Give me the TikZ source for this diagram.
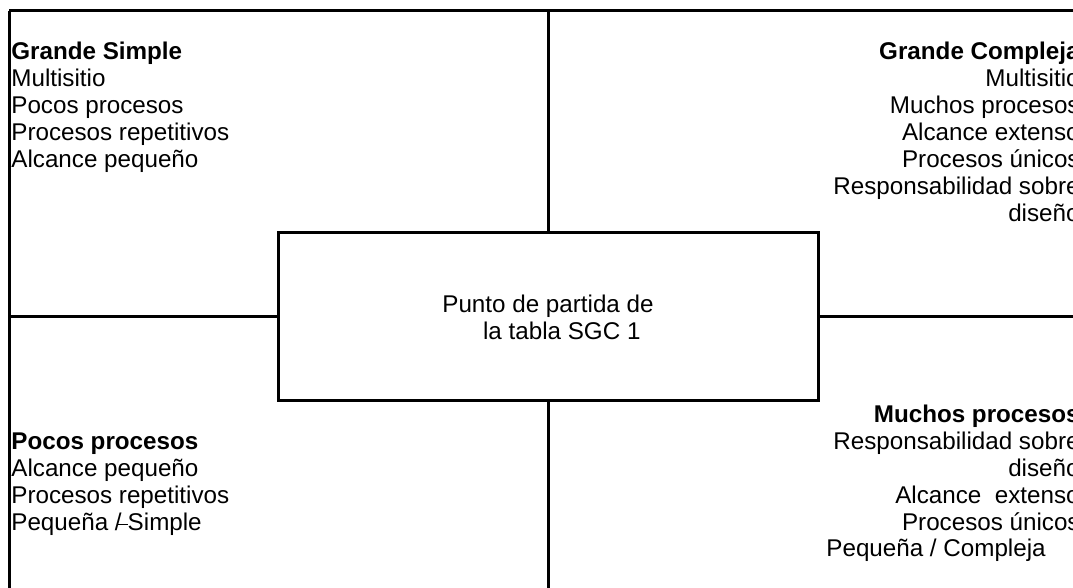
\documentclass[tikz,border=0pt]{standalone}
\usepackage{fontspec}
\setmainfont{Liberation Sans}
\usetikzlibrary{positioning}

\tikzset{
  frame/.style = {line width=1.5pt},
  txt/.style = {font=\fontsize{12.1}{13.5}\selectfont, inner sep=0pt},
  head/.style = {font=\fontsize{12.1}{13.5}\selectfont\bfseries, inner sep=0pt},
}

\begin{document}
\begin{tikzpicture}[x=0.5pt, y=-0.5pt]
    \useasboundingbox (0,0) rectangle (1073,588);

    % middle box
    \node [txt, draw, frame, minimum width=270pt, minimum height=84pt, align=center] (start) at (548,317)
      {Punto de partida de\\\hspace*{13.8pt}la tabla SGC 1};

    % frame lines
    \draw [frame] (9,11) -- (1073,11);
    \draw [frame] (9,11) -- (9,588);
    \draw [frame] (548,11) -- (start.north);
    \draw [frame] (start.south) -- (548,588);
    \draw [frame] (9,317) -- (start.west);
    \draw [frame] (start.east) -- (1073,317);

    % top left
    \node [head, anchor=base west] (gs) at (11,60) {Grande Simple};
    \foreach \lbl [count=\i] in {Multisitio, Pocos procesos, Procesos repetitivos, Alcance pequeño} {
      \node [txt, anchor=base west] (gs\i) at (11, 60+27*\i) {\lbl};
    }

    % top right
    \node [head, anchor=base east] (gc) at (1080,60) {Grande Compleja};
    \foreach \lbl [count=\i] in {Multisitio, Muchos procesos, Alcance extenso, Procesos únicos, Responsabilidad sobre, diseño} {
      \node [txt, anchor=base east] (gc\i) at (1080, 60+27*\i) {\lbl};
    }

    % bottom left
    \node [head, anchor=base west] (pp) at (11,450) {Pocos procesos};
    \foreach \lbl [count=\i] in {Alcance pequeño, Procesos repetitivos, {Pequeña /\kern-2.6pt\rule[2.9pt]{5.6pt}{0.6pt}Simple}} {
      \node [txt, anchor=base west] (pp\i) at (11, 450+27*\i) {\lbl};
    }

    % bottom right
    \node [head, anchor=base east] (mp) at (1080,423) {Muchos procesos};
    \foreach \lbl [count=\i] in {Responsabilidad sobre, diseño, Alcance\ \ extenso, Procesos únicos} {
      \node [txt, anchor=base east] (mp\i) at (1080, 423+26.8*\i) {\lbl};
    }
    \node [txt, anchor=base west] (pc) at (826,557) {Pequeña / Compleja};
\end{tikzpicture}
\end{document}
